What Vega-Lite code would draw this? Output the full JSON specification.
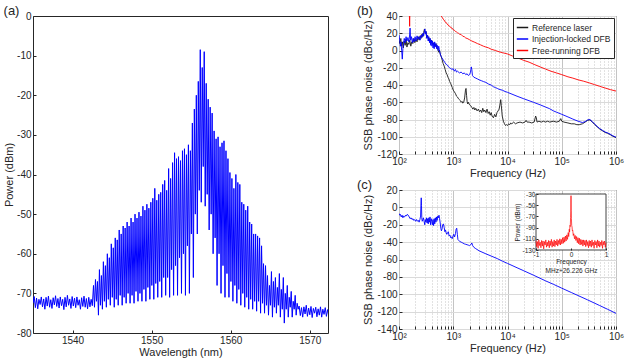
{
"$schema": "https://vega.github.io/schema/vega-lite/v6.json",
"padding": {"left": 3, "top": 4, "right": 2, "bottom": 2},
"config": {
 "font": "Liberation Sans",
 "view": {"stroke": "#262626", "strokeWidth": 1},
 "axis": {"labelFontSize": 10, "labelColor": "#262626", "titleFontSize": 11, "titleFontWeight": "normal", "titleColor": "#262626", "domain": false, "tickColor": "#262626", "tickSize": -3, "labelPadding": 5, "titlePadding": 2, "grid": false, "labelFlush": false, "labelOverlap": false},
 "title": {"fontSize": 13, "fontWeight": "normal", "anchor": "start", "frame": "bounds", "offset": -7, "color": "#262626"}
},
"datasets": {
 "spec": [
  {"w":1535.00,"p":-72.5},{"w":1535.15,"p":-70.8},{"w":1535.30,"p":-73.6},{"w":1535.45,"p":-71.2},{"w":1535.60,"p":-73.9},{"w":1535.75,"p":-71.5},{"w":1535.90,"p":-72.8},{"w":1536.05,"p":-70.9},{"w":1536.20,"p":-73.4},{"w":1536.35,"p":-71.4},{"w":1536.50,"p":-74.0},{"w":1536.65,"p":-71.0},{"w":1536.80,"p":-73.2},{"w":1536.95,"p":-70.7},{"w":1537.10,"p":-73.5},{"w":1537.25,"p":-71.6},{"w":1537.40,"p":-73.8},{"w":1537.55,"p":-71.1},{"w":1537.70,"p":-72.9},{"w":1537.85,"p":-70.6},{"w":1538.00,"p":-73.3},{"w":1538.15,"p":-71.3},{"w":1538.30,"p":-73.7},{"w":1538.45,"p":-70.9},{"w":1538.60,"p":-73.1},{"w":1538.75,"p":-71.5},{"w":1538.90,"p":-74.1},{"w":1539.05,"p":-71.0},{"w":1539.20,"p":-73.4},{"w":1539.35,"p":-70.5},{"w":1539.50,"p":-73.0},{"w":1539.65,"p":-71.4},{"w":1539.80,"p":-73.8},{"w":1539.95,"p":-70.8},{"w":1540.10,"p":-73.2},{"w":1540.25,"p":-71.2},{"w":1540.40,"p":-73.6},{"w":1540.55,"p":-70.9},{"w":1540.70,"p":-73.0},{"w":1540.85,"p":-71.6},{"w":1541.00,"p":-74.0},{"w":1541.15,"p":-71.1},{"w":1541.30,"p":-73.3},{"w":1541.45,"p":-70.7},{"w":1541.60,"p":-73.5},{"w":1541.75,"p":-71.3},{"w":1541.90,"p":-73.9},{"w":1542.05,"p":-71.0},{"w":1542.20,"p":-73.4},{"w":1542.35,"p":-71.5},{"w":1542.50,"p":-73.1},
  {"w":1542.65,"p":-68},{"w":1542.775,"p":-73.5},{"w":1542.90,"p":-66.5},{"w":1543.025,"p":-72},{"w":1543.15,"p":-67},{"w":1543.275,"p":-75.5},{"w":1543.40,"p":-64},{"w":1543.525,"p":-73},{"w":1543.65,"p":-65.5},{"w":1543.775,"p":-74},{"w":1543.90,"p":-62},{"w":1544.025,"p":-72},{"w":1544.15,"p":-63},{"w":1544.275,"p":-73.5},{"w":1544.40,"p":-60},{"w":1544.525,"p":-71.5},{"w":1544.65,"p":-61},{"w":1544.775,"p":-73},{"w":1544.90,"p":-57.5},{"w":1545.025,"p":-71},{"w":1545.15,"p":-58.5},{"w":1545.275,"p":-73.5},{"w":1545.40,"p":-56},{"w":1545.525,"p":-71.5},{"w":1545.65,"p":-56.5},{"w":1545.775,"p":-73},{"w":1545.90,"p":-54},{"w":1546.025,"p":-70.5},{"w":1546.15,"p":-55},{"w":1546.275,"p":-73},{"w":1546.40,"p":-53},{"w":1546.525,"p":-71},{"w":1546.65,"p":-53.5},{"w":1546.775,"p":-72.5},{"w":1546.90,"p":-52},{"w":1547.025,"p":-70},{"w":1547.15,"p":-53},{"w":1547.275,"p":-72.5},{"w":1547.40,"p":-51},{"w":1547.525,"p":-70.5},{"w":1547.65,"p":-52},{"w":1547.775,"p":-72.5},{"w":1547.90,"p":-50},{"w":1548.025,"p":-69.5},{"w":1548.15,"p":-51},{"w":1548.275,"p":-72},{"w":1548.40,"p":-49.5},{"w":1548.525,"p":-70},{"w":1548.65,"p":-50.5},{"w":1548.775,"p":-72},{"w":1548.90,"p":-48},{"w":1549.025,"p":-69},{"w":1549.15,"p":-49},{"w":1549.275,"p":-72},{"w":1549.40,"p":-47.5},{"w":1549.525,"p":-68.5},{"w":1549.65,"p":-48.5},{"w":1549.775,"p":-71.5},{"w":1549.90,"p":-47},{"w":1550.025,"p":-68},{"w":1550.15,"p":-46},{"w":1550.275,"p":-71.5},{"w":1550.40,"p":-43.5},{"w":1550.525,"p":-67.5},{"w":1550.65,"p":-46.5},{"w":1550.775,"p":-71},{"w":1550.90,"p":-45},{"w":1551.025,"p":-67},{"w":1551.15,"p":-44.5},{"w":1551.275,"p":-71},{"w":1551.40,"p":-42.5},{"w":1551.525,"p":-66},{"w":1551.65,"p":-41.5},{"w":1551.775,"p":-70.5},{"w":1551.90,"p":-44},{"w":1552.025,"p":-66},{"w":1552.15,"p":-38.5},{"w":1552.275,"p":-71},{"w":1552.40,"p":-41},{"w":1552.525,"p":-64},{"w":1552.65,"p":-37},{"w":1552.775,"p":-70.5},{"w":1552.90,"p":-34.5},{"w":1553.025,"p":-63},{"w":1553.15,"p":-36},{"w":1553.275,"p":-70.5},{"w":1553.40,"p":-35.5},{"w":1553.525,"p":-61},{"w":1553.65,"p":-36.5},{"w":1553.775,"p":-70},{"w":1553.90,"p":-34},{"w":1554.025,"p":-60},{"w":1554.15,"p":-33.5},{"w":1554.275,"p":-70.5},{"w":1554.40,"p":-35},{"w":1554.525,"p":-58},{"w":1554.65,"p":-32.5},{"w":1554.775,"p":-70},{"w":1554.90,"p":-34},{"w":1555.025,"p":-55},{"w":1555.15,"p":-27},{"w":1555.275,"p":-66},{"w":1555.40,"p":-23.5},{"w":1555.525,"p":-50},{"w":1555.65,"p":-20},{"w":1555.775,"p":-55},{"w":1555.90,"p":-16.5},{"w":1556.025,"p":-44},{"w":1556.15,"p":-8.5},{"w":1556.275,"p":-47},{"w":1556.40,"p":-13},{"w":1556.525,"p":-38},{"w":1556.65,"p":-9},{"w":1556.775,"p":-48},{"w":1556.90,"p":-17},{"w":1557.025,"p":-45},{"w":1557.15,"p":-21},{"w":1557.275,"p":-54},{"w":1557.40,"p":-23},{"w":1557.525,"p":-50},{"w":1557.65,"p":-24.5},{"w":1557.775,"p":-60},{"w":1557.90,"p":-29},{"w":1558.025,"p":-56},{"w":1558.15,"p":-31},{"w":1558.275,"p":-68},{"w":1558.40,"p":-30.5},{"w":1558.525,"p":-60},{"w":1558.65,"p":-33},{"w":1558.775,"p":-70},{"w":1558.90,"p":-32},{"w":1559.025,"p":-63},{"w":1559.15,"p":-31.5},{"w":1559.275,"p":-71},{"w":1559.40,"p":-34},{"w":1559.525,"p":-65},{"w":1559.65,"p":-36},{"w":1559.775,"p":-71},{"w":1559.90,"p":-39.5},{"w":1560.025,"p":-67},{"w":1560.15,"p":-41},{"w":1560.275,"p":-72},{"w":1560.40,"p":-43.5},{"w":1560.525,"p":-68},{"w":1560.65,"p":-40},{"w":1560.775,"p":-72.5},{"w":1560.90,"p":-42},{"w":1561.025,"p":-69},{"w":1561.15,"p":-42.5},{"w":1561.275,"p":-73},{"w":1561.40,"p":-47},{"w":1561.525,"p":-70},{"w":1561.65,"p":-47.5},{"w":1561.775,"p":-73.5},{"w":1561.90,"p":-49},{"w":1562.025,"p":-71},{"w":1562.15,"p":-48},{"w":1562.275,"p":-74},{"w":1562.40,"p":-52},{"w":1562.525,"p":-71.5},{"w":1562.65,"p":-52.5},{"w":1562.775,"p":-74},{"w":1562.90,"p":-55},{"w":1563.025,"p":-72},{"w":1563.15,"p":-55},{"w":1563.275,"p":-74.5},{"w":1563.40,"p":-55.5},{"w":1563.525,"p":-72},{"w":1563.65,"p":-56},{"w":1563.775,"p":-75},{"w":1563.90,"p":-58},{"w":1564.025,"p":-72.5},{"w":1564.15,"p":-62.5},{"w":1564.275,"p":-75},{"w":1564.40,"p":-63},{"w":1564.525,"p":-73},{"w":1564.65,"p":-65.5},{"w":1564.775,"p":-75.5},{"w":1564.90,"p":-68},{"w":1565.025,"p":-73},{"w":1565.15,"p":-64.5},{"w":1565.275,"p":-76},{"w":1565.40,"p":-67},{"w":1565.525,"p":-73.5},{"w":1565.65,"p":-66},{"w":1565.775,"p":-75},{"w":1565.90,"p":-68.5},{"w":1566.025,"p":-73},{"w":1566.15,"p":-65},{"w":1566.275,"p":-76},{"w":1566.40,"p":-69},{"w":1566.525,"p":-74},{"w":1566.65,"p":-66},{"w":1566.775,"p":-77.5},{"w":1566.90,"p":-70},{"w":1567.025,"p":-74},{"w":1567.15,"p":-68},{"w":1567.275,"p":-76},{"w":1567.40,"p":-71},{"w":1567.525,"p":-73.5},{"w":1567.65,"p":-69.5},{"w":1567.775,"p":-76},{"w":1567.90,"p":-72},{"w":1568.025,"p":-74},{"w":1568.15,"p":-70.5},{"w":1568.275,"p":-75.5},{"w":1568.40,"p":-72.5},{"w":1568.525,"p":-74},
  {"w":1568.65,"p":-73.2},{"w":1568.80,"p":-75.6},{"w":1568.95,"p":-73.6},{"w":1569.10,"p":-76.0},{"w":1569.25,"p":-73.4},{"w":1569.40,"p":-75.2},{"w":1569.55,"p":-73.0},{"w":1569.70,"p":-75.8},{"w":1569.85,"p":-73.7},{"w":1570.00,"p":-75.4},{"w":1570.15,"p":-73.3},{"w":1570.30,"p":-76.1},{"w":1570.45,"p":-73.8},{"w":1570.60,"p":-75.0},{"w":1570.75,"p":-73.5},{"w":1570.90,"p":-75.9},{"w":1571.05,"p":-73.9},{"w":1571.20,"p":-75.5},{"w":1571.35,"p":-73.4},{"w":1571.50,"p":-76.0},{"w":1571.65,"p":-74.0},{"w":1571.80,"p":-75.3},{"w":1571.95,"p":-73.6},{"w":1572.10,"p":-75.8},{"w":1572.25,"p":-74.1},{"w":1572.40,"p":-75.6},{"w":1572.50,"p":-74.8}
 ],
 "ref": [
  {"f":100,"v":12},{"f":104,"v":8},{"f":108,"v":14},{"f":112,"v":5},{"f":116,"v":10},{"f":120,"v":3},{"f":125,"v":11},{"f":130,"v":6},{"f":135,"v":13},{"f":140,"v":4},{"f":146,"v":9},{"f":152,"v":7},{"f":158,"v":12},{"f":165,"v":5},{"f":172,"v":10},{"f":180,"v":8},{"f":188,"v":14},{"f":196,"v":9},{"f":205,"v":13},{"f":215,"v":10},{"f":225,"v":16},{"f":235,"v":12},{"f":245,"v":17},{"f":255,"v":14},{"f":265,"v":19},{"f":275,"v":16},{"f":285,"v":21},{"f":295,"v":25},{"f":305,"v":20},{"f":315,"v":22},{"f":325,"v":15},{"f":340,"v":17},{"f":355,"v":11},{"f":370,"v":14},{"f":385,"v":8},{"f":400,"v":12},{"f":420,"v":7},{"f":440,"v":9},{"f":460,"v":5},{"f":480,"v":8},{"f":500,"v":3},{"f":520,"v":2},{"f":540,"v":-2},{"f":560,"v":0},{"f":580,"v":-5},{"f":600,"v":-7},{"f":620,"v":-10},{"f":650,"v":-15},{"f":680,"v":-18},{"f":710,"v":-22},{"f":740,"v":-26},{"f":770,"v":-28},{"f":800,"v":-31},{"f":830,"v":-33},{"f":860,"v":-36},{"f":890,"v":-38},{"f":920,"v":-40},{"f":960,"v":-43},{"f":1000,"v":-46},{"f":1050,"v":-48},{"f":1100,"v":-50},{"f":1150,"v":-53},{"f":1200,"v":-54},{"f":1250,"v":-56},{"f":1300,"v":-57},{"f":1350,"v":-58},{"f":1400,"v":-60},{"f":1450,"v":-59},{"f":1500,"v":-61},{"f":1560,"v":-60},{"f":1620,"v":-55},{"f":1680,"v":-46},{"f":1720,"v":-44},{"f":1760,"v":-52},{"f":1800,"v":-59},{"f":1850,"v":-62},{"f":1900,"v":-60},{"f":2000,"v":-63},{"f":2100,"v":-64},{"f":2200,"v":-66},{"f":2300,"v":-68},{"f":2400,"v":-66},{"f":2500,"v":-69},{"f":2600,"v":-67},{"f":2750,"v":-70},{"f":2900,"v":-68},{"f":3050,"v":-71},{"f":3200,"v":-69},{"f":3350,"v":-72},{"f":3500,"v":-67},{"f":3650,"v":-71},{"f":3800,"v":-69},{"f":4000,"v":-72},{"f":4200,"v":-68},{"f":4400,"v":-73},{"f":4600,"v":-71},{"f":4800,"v":-75},{"f":5000,"v":-72},{"f":5200,"v":-76},{"f":5500,"v":-78},{"f":5800,"v":-74},{"f":6100,"v":-77},{"f":6400,"v":-72},{"f":6700,"v":-70},{"f":7000,"v":-68},{"f":7300,"v":-62},{"f":7500,"v":-57},{"f":7700,"v":-64},{"f":8000,"v":-76},{"f":8400,"v":-82},{"f":8800,"v":-85},{"f":9200,"v":-87},{"f":9600,"v":-86},{"f":10000,"v":-87},{"f":10500,"v":-85},{"f":11000,"v":-86},{"f":11500,"v":-84},{"f":12000,"v":-85},{"f":13000,"v":-83},{"f":14000,"v":-85},{"f":15000,"v":-84},{"f":17000,"v":-83},{"f":19000,"v":-84},{"f":21000,"v":-83},{"f":22000,"v":-81},{"f":23000,"v":-83},{"f":25000,"v":-83},{"f":28000,"v":-84},{"f":31000,"v":-83},{"f":33000,"v":-76},{"f":34000,"v":-78},{"f":35000,"v":-83},{"f":38000,"v":-82},{"f":42000,"v":-83},{"f":46000,"v":-82},{"f":50000,"v":-83},{"f":55000,"v":-82},{"f":60000,"v":-83},{"f":70000,"v":-82},{"f":80000,"v":-83},{"f":90000,"v":-82},{"f":96000,"v":-79},{"f":100000,"v":-82},{"f":110000,"v":-83},{"f":130000,"v":-84},{"f":150000,"v":-85},{"f":170000,"v":-85},{"f":190000,"v":-86},{"f":210000,"v":-86},{"f":240000,"v":-85},{"f":270000,"v":-83},{"f":300000,"v":-81},{"f":330000,"v":-80.5},{"f":360000,"v":-82.5},{"f":400000,"v":-85.5},{"f":450000,"v":-88.5},{"f":500000,"v":-91},{"f":560000,"v":-93},{"f":630000,"v":-95},{"f":700000,"v":-96},{"f":780000,"v":-97.5},{"f":850000,"v":-99},{"f":920000,"v":-100},{"f":1000000,"v":-101}
 ],
 "inj": [
  {"f":100,"v":18},{"f":103,"v":12},{"f":106,"v":5},{"f":109,"v":10},{"f":112,"v":0},{"f":115,"v":-10},{"f":118,"v":2},{"f":121,"v":8},{"f":125,"v":14},{"f":130,"v":9},{"f":135,"v":16},{"f":140,"v":11},{"f":146,"v":15},{"f":152,"v":10},{"f":157,"v":18},{"f":160,"v":26},{"f":164,"v":12},{"f":170,"v":16},{"f":176,"v":9},{"f":182,"v":14},{"f":190,"v":10},{"f":198,"v":16},{"f":206,"v":11},{"f":215,"v":17},{"f":225,"v":13},{"f":235,"v":16},{"f":245,"v":12},{"f":255,"v":18},{"f":265,"v":15},{"f":275,"v":20},{"f":285,"v":17},{"f":295,"v":23},{"f":300,"v":25},{"f":308,"v":19},{"f":316,"v":22},{"f":325,"v":14},{"f":335,"v":18},{"f":345,"v":11},{"f":355,"v":16},{"f":365,"v":9},{"f":375,"v":14},{"f":385,"v":6},{"f":395,"v":12},{"f":405,"v":5},{"f":415,"v":11},{"f":425,"v":3},{"f":435,"v":9},{"f":445,"v":2},{"f":455,"v":10},{"f":465,"v":4},{"f":480,"v":8},{"f":495,"v":2},{"f":510,"v":6},{"f":525,"v":0},{"f":540,"v":5},{"f":555,"v":1},{"f":570,"v":-3},{"f":590,"v":-6},{"f":610,"v":-8},{"f":640,"v":-10},{"f":670,"v":-12},{"f":700,"v":-14},{"f":740,"v":-16},{"f":780,"v":-17},{"f":820,"v":-19},{"f":860,"v":-20},{"f":900,"v":-21},{"f":950,"v":-22},{"f":1000,"v":-21},{"f":1050,"v":-24},{"f":1100,"v":-22},{"f":1150,"v":-25},{"f":1200,"v":-24},{"f":1300,"v":-26},{"f":1400,"v":-25},{"f":1500,"v":-27},{"f":1600,"v":-26},{"f":1700,"v":-28},{"f":1800,"v":-27},{"f":1900,"v":-29},{"f":2000,"v":-28},{"f":2080,"v":-25},{"f":2150,"v":-19},{"f":2200,"v":-22},{"f":2260,"v":-29},{"f":2400,"v":-31},{"f":2600,"v":-32},{"f":2800,"v":-33},{"f":3000,"v":-34},{"f":3300,"v":-35},{"f":3600,"v":-36},{"f":4000,"v":-37},{"f":4500,"v":-39},{"f":5000,"v":-40},{"f":5500,"v":-42},{"f":6000,"v":-43},{"f":6500,"v":-44},{"f":7000,"v":-45},{"f":8000,"v":-46},{"f":9000,"v":-47.5},{"f":10000,"v":-48.5},{"f":15000,"v":-53},{"f":20000,"v":-56},{"f":30000,"v":-60},{"f":40000,"v":-63},{"f":50000,"v":-65.5},{"f":60000,"v":-67.5},{"f":70000,"v":-70},{"f":80000,"v":-71.5},{"f":100000,"v":-74},{"f":130000,"v":-77},{"f":160000,"v":-79.5},{"f":200000,"v":-82},{"f":240000,"v":-83.5},{"f":270000,"v":-82.5},{"f":300000,"v":-80.5},{"f":330000,"v":-80},{"f":360000,"v":-82},{"f":400000,"v":-85},{"f":450000,"v":-88},{"f":500000,"v":-90.5},{"f":560000,"v":-92.5},{"f":630000,"v":-94.5},{"f":700000,"v":-95.5},{"f":780000,"v":-97},{"f":850000,"v":-98.5},{"f":920000,"v":-99.5},{"f":1000000,"v":-100.5}
 ],
 "free": [
  {"f":150,"v":70},{"f":155,"v":45},{"f":157,"v":28},{"f":159,"v":45},{"f":162,"v":70},{"f":560,"v":50},{"f":580,"v":44},{"f":600,"v":40},{"f":625,"v":38.5},{"f":650,"v":36.5},{"f":675,"v":35.5},{"f":700,"v":33.5},{"f":725,"v":33},{"f":750,"v":31.5},{"f":775,"v":31},{"f":800,"v":29.5},{"f":850,"v":28.5},{"f":900,"v":26.5},{"f":950,"v":26},{"f":1000,"v":24},{"f":1050,"v":23.5},{"f":1100,"v":22},{"f":1150,"v":21.5},{"f":1200,"v":20.5},{"f":1250,"v":20},{"f":1300,"v":19},{"f":1400,"v":18.5},{"f":1500,"v":16.5},{"f":1600,"v":16},{"f":1700,"v":14.5},{"f":1800,"v":14},{"f":2000,"v":12.5},{"f":2200,"v":11},{"f":2500,"v":9.5},{"f":2800,"v":8},{"f":3200,"v":6.5},{"f":3600,"v":5},{"f":4000,"v":4},{"f":4500,"v":3},{"f":5000,"v":1.5},{"f":6000,"v":0},{"f":7000,"v":-1.5},{"f":8000,"v":-2.5},{"f":10000,"v":-4},{"f":12500,"v":-6.5},{"f":16000,"v":-9},{"f":20000,"v":-11.5},{"f":25000,"v":-13.5},{"f":32000,"v":-16.5},{"f":40000,"v":-19},{"f":50000,"v":-21.5},{"f":63000,"v":-24},{"f":80000,"v":-26},{"f":100000,"v":-28},{"f":130000,"v":-30.5},{"f":160000,"v":-32},{"f":200000,"v":-34},{"f":250000,"v":-35.5},{"f":320000,"v":-37.5},{"f":400000,"v":-39.5},{"f":500000,"v":-41.5},{"f":630000,"v":-43.5},{"f":800000,"v":-45.5},{"f":1000000,"v":-47}
 ],
 "c": [
  {"f":100,"v":-7},{"f":103,"v":-9},{"f":106,"v":-8},{"f":110,"v":-11},{"f":114,"v":-9},{"f":118,"v":-12},{"f":122,"v":-10},{"f":127,"v":-11},{"f":132,"v":-9},{"f":137,"v":-10},{"f":142,"v":-8},{"f":148,"v":-9},{"f":154,"v":-11},{"f":160,"v":-13},{"f":167,"v":-12},{"f":174,"v":-14},{"f":181,"v":-13},{"f":188,"v":-15},{"f":195,"v":-14},{"f":203,"v":-16},{"f":211,"v":-14},{"f":219,"v":-16},{"f":227,"v":-15},{"f":235,"v":-17},{"f":243,"v":-14},{"f":250,"v":-10},{"f":254,"v":4},{"f":257,"v":11},{"f":260,"v":2},{"f":263,"v":-12},{"f":268,"v":-16},{"f":275,"v":-14},{"f":282,"v":-12},{"f":290,"v":-16},{"f":298,"v":-20},{"f":306,"v":-14},{"f":314,"v":-17},{"f":322,"v":-12},{"f":330,"v":-18},{"f":338,"v":-13},{"f":346,"v":-19},{"f":355,"v":-12},{"f":364,"v":-17},{"f":373,"v":-11},{"f":382,"v":-20},{"f":392,"v":-13},{"f":402,"v":-16},{"f":412,"v":-20},{"f":423,"v":-14},{"f":434,"v":-21},{"f":445,"v":-13},{"f":456,"v":-19},{"f":468,"v":-12},{"f":480,"v":-17},{"f":492,"v":-11},{"f":505,"v":-15},{"f":518,"v":-10},{"f":532,"v":-12},{"f":546,"v":-9},{"f":560,"v":-13},{"f":575,"v":-18},{"f":590,"v":-24},{"f":605,"v":-27},{"f":620,"v":-25},{"f":640,"v":-20},{"f":660,"v":-19},{"f":680,"v":-23},{"f":700,"v":-28},{"f":720,"v":-26},{"f":740,"v":-29},{"f":760,"v":-31},{"f":780,"v":-30},{"f":810,"v":-28},{"f":840,"v":-33},{"f":870,"v":-32},{"f":900,"v":-35},{"f":930,"v":-34},{"f":960,"v":-36},{"f":990,"v":-33},{"f":1020,"v":-31},{"f":1060,"v":-34},{"f":1100,"v":-30},{"f":1130,"v":-25},{"f":1160,"v":-24},{"f":1190,"v":-31},{"f":1220,"v":-37},{"f":1260,"v":-38},{"f":1300,"v":-39},{"f":1400,"v":-40},{"f":1500,"v":-41},{"f":1600,"v":-42},{"f":1700,"v":-42.5},{"f":1800,"v":-43},{"f":1900,"v":-43.5},{"f":2000,"v":-44},{"f":2100,"v":-43},{"f":2200,"v":-41},{"f":2280,"v":-44},{"f":2400,"v":-46},{"f":2600,"v":-47.5},{"f":3000,"v":-50},{"f":4000,"v":-53.5},{"f":5000,"v":-56},{"f":6500,"v":-59},{"f":8000,"v":-61.8},{"f":10000,"v":-64.5},{"f":15000,"v":-69.5},{"f":20000,"v":-73},{"f":30000,"v":-78},{"f":50000,"v":-84.5},{"f":70000,"v":-88.5},{"f":100000,"v":-93},{"f":150000,"v":-98},{"f":200000,"v":-101.5},{"f":300000,"v":-106.5},{"f":500000,"v":-113},{"f":700000,"v":-117.3},{"f":1000000,"v":-122}
 ],
 "ins": [
  {"x":-1.00,"y":-113},{"x":-0.98,"y":-124},{"x":-0.96,"y":-115},{"x":-0.94,"y":-127},{"x":-0.92,"y":-112},{"x":-0.90,"y":-122},{"x":-0.88,"y":-116},{"x":-0.86,"y":-126},{"x":-0.84,"y":-113},{"x":-0.82,"y":-123},{"x":-0.80,"y":-114},{"x":-0.78,"y":-128},{"x":-0.76,"y":-115},{"x":-0.74,"y":-121},{"x":-0.72,"y":-112},{"x":-0.70,"y":-125},{"x":-0.68,"y":-116},{"x":-0.66,"y":-123},{"x":-0.64,"y":-113},{"x":-0.62,"y":-126},{"x":-0.60,"y":-114},{"x":-0.58,"y":-122},{"x":-0.56,"y":-111},{"x":-0.54,"y":-125},{"x":-0.52,"y":-115},{"x":-0.50,"y":-123},{"x":-0.48,"y":-112},{"x":-0.46,"y":-124},{"x":-0.44,"y":-114},{"x":-0.42,"y":-121},{"x":-0.40,"y":-111},{"x":-0.38,"y":-123},{"x":-0.36,"y":-113},{"x":-0.34,"y":-120},{"x":-0.32,"y":-110},{"x":-0.30,"y":-121},{"x":-0.28,"y":-111},{"x":-0.26,"y":-119},{"x":-0.24,"y":-108},{"x":-0.22,"y":-118},{"x":-0.20,"y":-107},{"x":-0.18,"y":-116},{"x":-0.16,"y":-105},{"x":-0.14,"y":-114},{"x":-0.12,"y":-103},{"x":-0.10,"y":-111},{"x":-0.08,"y":-99},{"x":-0.065,"y":-106},{"x":-0.05,"y":-93},{"x":-0.04,"y":-98},{"x":-0.03,"y":-86},{"x":-0.02,"y":-88},{"x":-0.012,"y":-72},{"x":-0.006,"y":-62},{"x":0,"y":-33},{"x":0.006,"y":-60},{"x":0.012,"y":-74},{"x":0.02,"y":-86},{"x":0.03,"y":-89},{"x":0.04,"y":-96},{"x":0.05,"y":-95},{"x":0.065,"y":-104},{"x":0.08,"y":-101},{"x":0.10,"y":-110},{"x":0.12,"y":-104},{"x":0.14,"y":-113},{"x":0.16,"y":-106},{"x":0.18,"y":-117},{"x":0.20,"y":-108},{"x":0.22,"y":-119},{"x":0.24,"y":-109},{"x":0.26,"y":-121},{"x":0.28,"y":-111},{"x":0.30,"y":-120},{"x":0.32,"y":-112},{"x":0.34,"y":-123},{"x":0.36,"y":-112},{"x":0.38,"y":-121},{"x":0.40,"y":-113},{"x":0.42,"y":-124},{"x":0.44,"y":-112},{"x":0.46,"y":-122},{"x":0.48,"y":-115},{"x":0.50,"y":-126},{"x":0.52,"y":-113},{"x":0.54,"y":-123},{"x":0.56,"y":-114},{"x":0.58,"y":-125},{"x":0.60,"y":-112},{"x":0.62,"y":-122},{"x":0.64,"y":-116},{"x":0.66,"y":-127},{"x":0.68,"y":-113},{"x":0.70,"y":-121},{"x":0.72,"y":-115},{"x":0.74,"y":-126},{"x":0.76,"y":-112},{"x":0.78,"y":-123},{"x":0.80,"y":-114},{"x":0.82,"y":-125},{"x":0.84,"y":-116},{"x":0.86,"y":-122},{"x":0.88,"y":-113},{"x":0.90,"y":-127},{"x":0.92,"y":-115},{"x":0.94,"y":-121},{"x":0.96,"y":-114},{"x":0.98,"y":-125},{"x":1.00,"y":-117}
 ]
},
"spacing": 27,
"resolve": {"scale": {"color": "independent"}, "legend": {"color": "independent"}},
"hconcat": [
 {
  "width": 295, "height": 317,
  "title": "(a)",
  "data": {"name": "spec"},
  "mark": {"type": "line", "color": "#0000ff", "strokeWidth": 1, "clip": true},
  "encoding": {
   "x": {"field": "w", "type": "quantitative", "scale": {"domain": [1535, 1572.3], "nice": false, "zero": false}, "axis": {"title": "Wavelength (nm)", "values": [1540, 1550, 1560, 1570], "labelExpr": "datum.value + ''", "titlePadding": 1}},
   "y": {"field": "p", "type": "quantitative", "scale": {"domain": [-80, 0], "nice": false}, "axis": {"title": "Power (dBm)", "values": [-80, -70, -60, -50, -40, -30, -20, -10, 0], "labelExpr": "datum.value + ''", "titlePadding": 2}}
  }
 },
 {
  "spacing": -1,
  "resolve": {"scale": {"color": "independent"}, "legend": {"color": "independent"}},
  "vconcat": [
   {
    "width": 217, "height": 138,
    "title": {"text": "(b)", "dx": -6},
    "encoding": {
     "x": {"field": "f", "type": "quantitative", "scale": {"type": "log", "domain": [100, 1000000], "nice": false},
      "axis": {"title": "Frequency (Hz)", "values": [100,200,300,400,500,600,700,800,900,1000,2000,3000,4000,5000,6000,7000,8000,9000,10000,20000,30000,40000,50000,60000,70000,80000,90000,100000,200000,300000,400000,500000,600000,700000,800000,900000,1000000], "labelExpr": "datum.value==100?'10²':datum.value==1000?'10³':datum.value==10000?'10⁴':datum.value==100000?'10⁵':datum.value==1000000?'10⁶':''", "grid": true, "gridColor": "#c4c4c4", "gridDash": {"condition": {"test": "indexof([100,1000,10000,100000,1000000], datum.value) >= 0", "value": []}, "value": [1, 2]}, "titlePadding": 1}},
     "y": {"field": "v", "type": "quantitative", "scale": {"domain": [-120, 40], "nice": false},
      "axis": {"title": "SSB phase noise (dBc/Hz)", "values": [-120, -100, -80, -60, -40, -20, 0, 20, 40], "labelExpr": "datum.value + ''", "grid": true, "gridColor": "#dadada", "titlePadding": 3}}
    },
    "layer": [
     {"data": {"name": "ref"}, "mark": {"type": "line", "strokeWidth": 0.9, "clip": true},
      "encoding": {"color": {"datum": "Reference laser", "type": "nominal", "scale": {"domain": ["Reference laser", "Injection-locked DFB", "Free-running DFB"], "range": ["#1a1a1a", "#0000ff", "#ff0000"]},
       "legend": {"title": null, "orient": "top-right", "offset": 2, "fillColor": "white", "strokeColor": "#262626", "padding": 3, "labelFontSize": 8.5, "labelColor": "#262626", "symbolType": "stroke", "symbolSize": 130, "symbolStrokeWidth": 1.5, "rowPadding": 0.5, "labelOffset": 3, "cornerRadius": 0}}}},
     {"data": {"name": "inj"}, "mark": {"type": "line", "strokeWidth": 0.9, "clip": true},
      "encoding": {"color": {"datum": "Injection-locked DFB", "type": "nominal"}}},
     {"data": {"name": "free"}, "mark": {"type": "line", "strokeWidth": 0.9, "clip": true},
      "encoding": {"color": {"datum": "Free-running DFB", "type": "nominal"}}}
    ]
   },
   {
    "width": 217, "height": 139,
    "title": {"text": "(c)", "dx": -6},
    "layer": [
     {"data": {"name": "c"}, "mark": {"type": "line", "color": "#0000ff", "strokeWidth": 0.9, "clip": true},
      "encoding": {
       "x": {"field": "f", "type": "quantitative", "scale": {"type": "log", "domain": [100, 1000000], "nice": false},
        "axis": {"title": "Frequency (Hz)", "values": [100,200,300,400,500,600,700,800,900,1000,2000,3000,4000,5000,6000,7000,8000,9000,10000,20000,30000,40000,50000,60000,70000,80000,90000,100000,200000,300000,400000,500000,600000,700000,800000,900000,1000000], "labelExpr": "datum.value==100?'10²':datum.value==1000?'10³':datum.value==10000?'10⁴':datum.value==100000?'10⁵':datum.value==1000000?'10⁶':''", "grid": true, "gridColor": "#c4c4c4", "gridDash": {"condition": {"test": "indexof([100,1000,10000,100000,1000000], datum.value) >= 0", "value": []}, "value": [1, 2]}, "titlePadding": 1}},
       "y": {"field": "v", "type": "quantitative", "scale": {"domain": [-140, 20], "nice": false},
        "axis": {"title": "SSB phase noise (dBc/Hz)", "values": [-140, -120, -100, -80, -60, -40, -20, 0, 20], "labelExpr": "datum.value + ''", "grid": true, "gridColor": "#dadada", "titlePadding": 3}}
      }},
     {"layer": [
       {"data": {"values": [{"a": -1, "b": 1, "c": -130, "d": -30}]},
        "mark": {"type": "rect", "fill": "white", "stroke": "#444444", "strokeWidth": 1},
        "encoding": {
         "x": {"field": "a", "type": "quantitative", "scale": {"domain": [-1, 1], "range": [137, 207], "nice": false, "zero": false},
          "axis": {"orient": "bottom", "offset": -79, "values": [-1, 0, 1], "labelExpr": "datum.value + ''", "title": ["Frequency", "MHz+26.226 GHz"], "labelFontSize": 6.5, "titleFontSize": 6.5, "titleLineHeight": 8.5, "tickSize": -2, "labelPadding": 3, "titlePadding": 1, "grid": false, "zindex": 1, "labelOverlap": false}},
         "x2": {"field": "b"},
         "y": {"field": "c", "type": "quantitative", "scale": {"domain": [-130, -30], "range": [60, 4], "nice": false, "zero": false},
          "axis": {"orient": "left", "offset": -137, "values": [-130, -110, -90, -70, -50, -30], "labelExpr": "datum.value + ''", "title": "Power (dBm)", "labelFontSize": 6.5, "titleFontSize": 6.5, "tickSize": -2, "labelPadding": 3, "titlePadding": 1, "grid": false, "zindex": 1, "labelOverlap": false}},
         "y2": {"field": "d"}
        }},
       {"data": {"name": "ins"}, "mark": {"type": "line", "color": "#ff0000", "strokeWidth": 0.7},
        "encoding": {
         "x": {"field": "x", "type": "quantitative",
          "axis": {"orient": "bottom", "offset": -79, "values": [-1, 0, 1], "labelExpr": "datum.value + ''", "title": ["Frequency", "MHz+26.226 GHz"], "labelFontSize": 6.5, "titleFontSize": 6.5, "titleLineHeight": 8.5, "tickSize": -2, "labelPadding": 3, "titlePadding": 1, "grid": false, "zindex": 1, "labelOverlap": false}},
         "y": {"field": "y", "type": "quantitative",
          "axis": {"orient": "left", "offset": -137, "values": [-130, -110, -90, -70, -50, -30], "labelExpr": "datum.value + ''", "title": "Power (dBm)", "labelFontSize": 6.5, "titleFontSize": 6.5, "tickSize": -2, "labelPadding": 3, "titlePadding": 1, "grid": false, "zindex": 1, "labelOverlap": false}}
        }}
     ]}
    ],
    "resolve": {"scale": {"x": "independent", "y": "independent"}, "axis": {"x": "independent", "y": "independent"}}
   }
  ]
 }
]
}
